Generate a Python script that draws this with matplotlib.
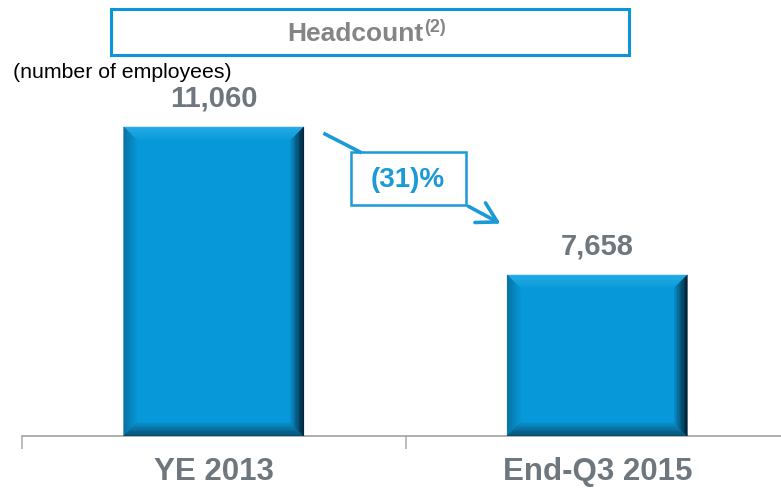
import matplotlib
matplotlib.use("Agg")
import matplotlib.pyplot as plt
import matplotlib.colors as mcolors
import numpy as np
from matplotlib.patches import Rectangle, Polygon, FancyArrowPatch
from matplotlib.lines import Line2D

plt.rcParams['font.family'] = ['Liberation Sans', 'DejaVu Sans']

categories = ['YE 2013', 'End-Q3 2015']
headcount = [11060, 7658]
value_labels = ['11,060', '7,658']
change_label = '(31)%'
title = 'Headcount'
title_note = '(2)'
unit_label = '(number of employees)'

W, H = 781, 489
fig = plt.figure(figsize=(W / 100, H / 100), dpi=100)


def fx(px):
    return px / W


def fy(py):
    return 1 - py / H


BLUE = '#0698d8'
LINE_BLUE = '#1a9ad7'
GREY_TXT = '#6f777e'
AXIS_GREY = '#a8a8a8'

# axes: baseline at y=437 px, left end of axis line at x=22 px
ax = fig.add_axes([fx(22), fy(437), fx(781 - 22), 437 / H])
ax.set_xlim(-0.5, -0.5 + 759 / 383.5)
ax.set_ylim(3957, 14002)

x = list(range(len(categories)))
base = ax.get_ylim()[0]
bars = ax.bar(x, [v - base for v in headcount], bottom=base, width=0.47,
              color=BLUE, edgecolor='none', zorder=2)

# bevel look on each bar, drawn as graded strips
px_x = (ax.get_xlim()[1] - ax.get_xlim()[0]) / 759
px_y = (ax.get_ylim()[1] - ax.get_ylim()[0]) / 437
bev = 13
dx, dy = bev * px_x, bev * px_y
n = 10


def face(p_a, p_b, in_a, in_b, c_out, c_in):
    c0 = np.array(mcolors.to_rgb(c_out))
    c1 = np.array(mcolors.to_rgb(c_in))
    for i in range(n):
        t0, t1 = i / n, (i + 1) / n
        pts = [
            (p_a[0] + t0 * in_a[0], p_a[1] + t0 * in_a[1]),
            (p_b[0] + t0 * in_b[0], p_b[1] + t0 * in_b[1]),
            (p_b[0] + t1 * in_b[0], p_b[1] + t1 * in_b[1]),
            (p_a[0] + t1 * in_a[0], p_a[1] + t1 * in_a[1]),
        ]
        c = c0 + (c1 - c0) * (t0 + t1) / 2
        ax.add_patch(Polygon(pts, closed=True, facecolor=c, edgecolor=c,
                             linewidth=0.3, zorder=3))


for r in bars:
    x0, y0 = r.get_xy()
    x1, y1 = x0 + r.get_width(), y0 + r.get_height()
    face((x0, y1), (x1, y1), (dx, -dy), (-dx, -dy), '#27aee8', '#0b9bd9')
    face((x0, y0), (x0, y1), (dx, dy), (dx, -dy), '#086f9e', '#0795d4')
    face((x0, y0), (x1, y0), (dx, dy), (-dx, dy), '#094a6a', '#0a8ec9')
    face((x1, y1), (x1, y0), (-dx, -dy), (-dx, dy), '#021827', '#0a8bc5')

for xi, v, lab in zip(x, headcount, value_labels):
    ax.annotate(lab, (xi, v), xytext=(0, 11), textcoords='offset points',
                ha='center', va='bottom', fontsize=21, fontweight='bold', color=GREY_TXT)

for xi, lab in zip(x, categories):
    ax.text(xi, -0.08, lab, transform=ax.get_xaxis_transform(), ha='center', va='center',
            fontsize=22.5, fontweight='bold', color=GREY_TXT)

for s in ['top', 'right', 'left']:
    ax.spines[s].set_visible(False)
ax.spines['bottom'].set_color(AXIS_GREY)
ax.spines['bottom'].set_linewidth(1.3)
ax.set_yticks([])
ax.set_xticks([-0.5, 0.5])
ax.set_xticklabels([])
ax.tick_params(axis='x', direction='out', length=9, width=1.1, color=AXIS_GREY)
ax.patch.set_visible(False)

# title box
fig.patches.append(Rectangle((fx(111), fy(56)), fx(629 - 111), (56 - 10) / H,
                             transform=fig.transFigure, facecolor='white',
                             edgecolor='#0c96d6', linewidth=2.2))
fig.text(fx(355), fy(34), title, ha='center', va='center', fontsize=19,
         fontweight='bold', color='#858585')
fig.text(fx(424), fy(28), title_note, ha='left', va='center', fontsize=13,
         fontweight='bold', color='#858585')

fig.text(fx(13), fy(72), unit_label, ha='left', va='center', fontsize=15.3, color='black')

# change callout
fig.add_artist(Line2D([fx(325), fx(360)], [fy(135), fy(153)], color=LINE_BLUE, linewidth=2.6))
fig.patches.append(Rectangle((fx(351), fy(206)), fx(466 - 351), (206 - 153) / H,
                             transform=fig.transFigure, facecolor='white',
                             edgecolor=LINE_BLUE, linewidth=1.8))
fig.text(fx(408), fy(180), change_label, ha='center', va='center', fontsize=20,
         fontweight='bold', color=LINE_BLUE)
fig.add_artist(FancyArrowPatch((fx(466), fy(206)), (fx(503), fy(226)),
                               transform=fig.transFigure, arrowstyle='->,head_length=7,head_width=4',
                               color=LINE_BLUE, linewidth=2.6, mutation_scale=2))

fig.savefig('out.png', dpi=100)
